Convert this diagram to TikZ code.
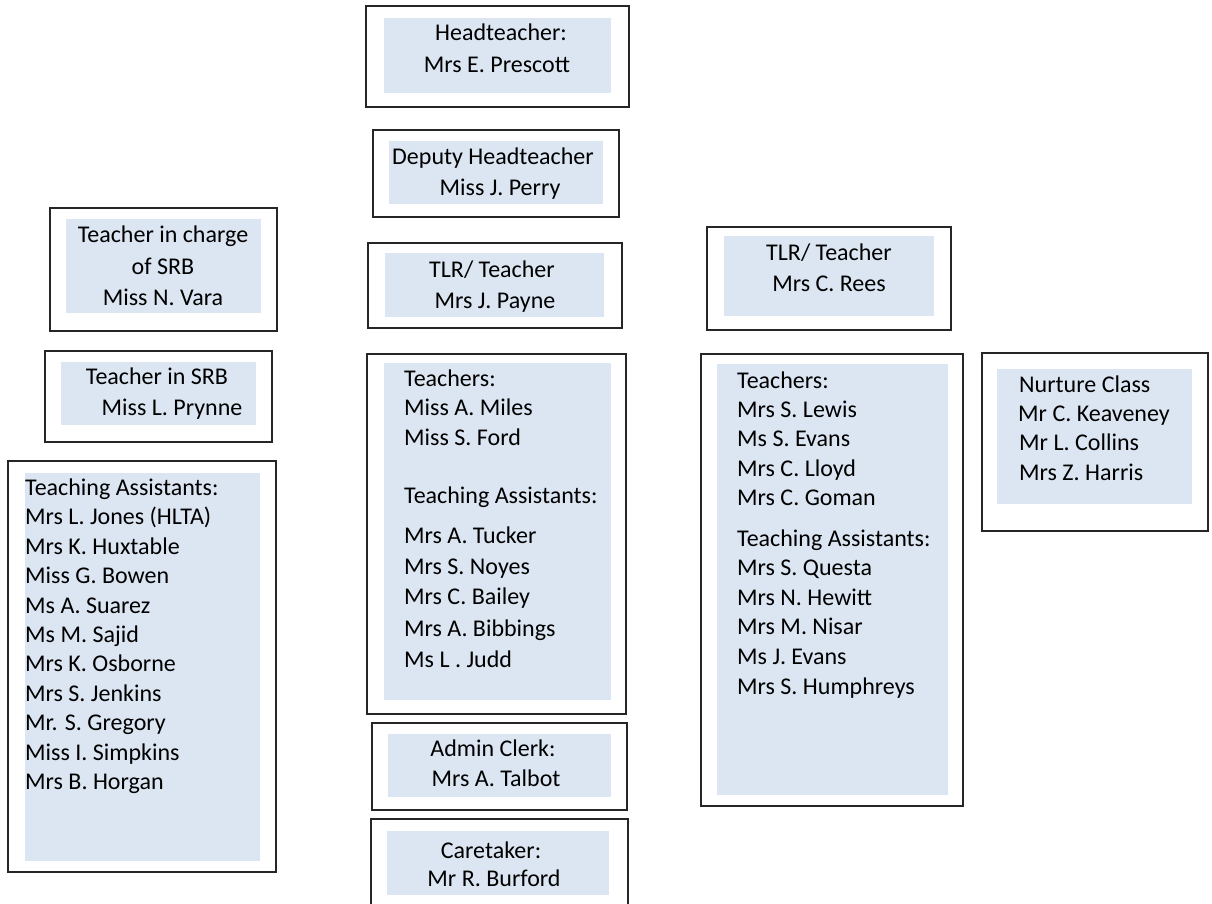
\documentclass[tikz,border=0pt]{standalone}
\usepackage{fontspec}
\setmainfont{Carlito}
\definecolor{boxblue}{HTML}{DCE6F2}
\tikzset{
  outerline/.style={draw=black!85, line width=1.3pt},
  innerfill/.style={fill=boxblue},
  txt/.style={font=\fontsize{24}{29}\selectfont, inner sep=0pt, text=black},
  ctr/.style={txt, anchor=base},
  lft/.style={txt, anchor=base west}
}
\newcommand\orgbox[8]{%
  \fill[innerfill] (#5,#6) rectangle (#7,#8);
  \draw[outerline] (#1,#2) rectangle (#3,#4);
}
\begin{document}
\begin{tikzpicture}[x=1pt,y=-1pt]
\useasboundingbox (0,0) rectangle (1212,903);

% Headteacher
\orgbox{366}{6}{629}{107}{384}{18}{611}{93}
\node[ctr] (head1) at (501,40.5) {Headteacher:};
\node[ctr] (head2) at (497,72.5) {Mrs E. Prescott};

% Deputy
\orgbox{373}{130}{619}{217}{389}{141}{603}{204}
\node[ctr] (dep1) at (493,164.5) {Deputy Headteacher};
\node[ctr] (dep2) at (500,195.5) {Miss J. Perry};

% TLR Payne
\orgbox{368}{243}{622}{328}{385}{253}{604}{317}
\node[ctr] (pay1) at (492,277.5) {TLR/ Teacher};
\node[ctr] (pay2) at (495,308.5) {Mrs J. Payne};

% Teacher in charge of SRB
\orgbox{50}{208}{277}{331}{66}{219}{261}{313}
\node[ctr] (srb1) at (163,242.5) {Teacher in charge};
\node[ctr] (srb2) at (163,274.5) {of SRB};
\node[ctr] (srb3) at (163,305.5) {Miss N. Vara};

% Teacher in SRB
\orgbox{45}{351}{272}{442}{61}{362}{256}{425}
\node[ctr] (srt1) at (157,384.5) {Teacher in SRB};
\node[ctr] (srt2) at (172,415.5) {Miss L. Prynne};

% Left teaching assistants
\orgbox{8}{461}{276}{872}{25}{473}{260}{861}
\foreach \t [count=\i] in {{Teaching Assistants:},{Mrs L. Jones (HLTA)},{Mrs K. Huxtable},{Miss G. Bowen},{Ms A. Suarez},{Ms M. Sajid},{Mrs K. Osborne},{Mrs S. Jenkins},{Mr. S. Gregory},{Miss I. Simpkins},{Mrs B. Horgan}}
  \node[lft] (lta\i) at (25,{495.5+29.4*(\i-1)}) {\t};

% Middle teachers
\orgbox{367}{354}{626}{714}{384}{363}{611}{700}
\node[lft] (mt1) at (404,386.5) {Teachers:};
\node[lft] (mt2) at (404,415.5) {Miss A. Miles};
\node[lft] (mt3) at (404,445.5) {Miss S. Ford};
\node[lft] (mt4) at (404,503.5) {Teaching Assistants:};
\node[lft] (mt5) at (404,543.5) {Mrs A. Tucker};
\node[lft] (mt6) at (404,574.5) {Mrs S. Noyes};
\node[lft] (mt7) at (404,604.5) {Mrs C. Bailey};
\node[lft] (mt8) at (404,636.5) {Mrs A. Bibbings};
\node[lft] (mt9) at (404,667.5) {Ms L . Judd};

% Admin clerk
\orgbox{372}{723}{627}{810}{388}{734}{611}{797}
\node[ctr] (adm1) at (493,756.5) {Admin Clerk:};
\node[ctr] (adm2) at (496,786.5) {Mrs A. Talbot};

% Caretaker
\orgbox{371}{819}{628}{912}{387}{831}{609}{895}
\node[ctr] (car1) at (491,858.5) {Caretaker:};
\node[ctr] (car2) at (494,886.5) {Mr R. Burford};

% TLR Rees
\orgbox{707}{227}{951}{330}{724}{236}{934}{316}
\node[ctr] (ree1) at (829,260.5) {TLR/ Teacher};
\node[ctr] (ree2) at (829,291.5) {Mrs C. Rees};

% Right teachers
\orgbox{701}{354}{963}{806}{717}{364}{948}{795}
\foreach \t/\yy [count=\i] in {{Teachers:}/388.5,{Mrs S. Lewis}/417.5,{Ms S. Evans}/446.5,{Mrs C. Lloyd}/476,{Mrs C. Goman}/505,{Teaching Assistants:}/546.5,{Mrs S. Questa}/575.5,{Mrs N. Hewitt}/605.5,{Mrs M. Nisar}/634.5,{Ms J. Evans}/664.5,{Mrs S. Humphreys}/694.5}
  \node[lft] (rt\i) at (737,\yy) {\t};

% Nurture class
\orgbox{982}{353}{1208}{531}{997}{369}{1192}{504}
\node[lft] (nur1) at (1019,392.5) {Nurture Class};
\node[lft] (nur2) at (1018,421.5) {Mr C. Keaveney};
\node[lft] (nur3) at (1019,450.5) {Mr L. Collins};
\node[lft] (nur4) at (1019,480.5) {Mrs Z. Harris};
\end{tikzpicture}
\end{document}
